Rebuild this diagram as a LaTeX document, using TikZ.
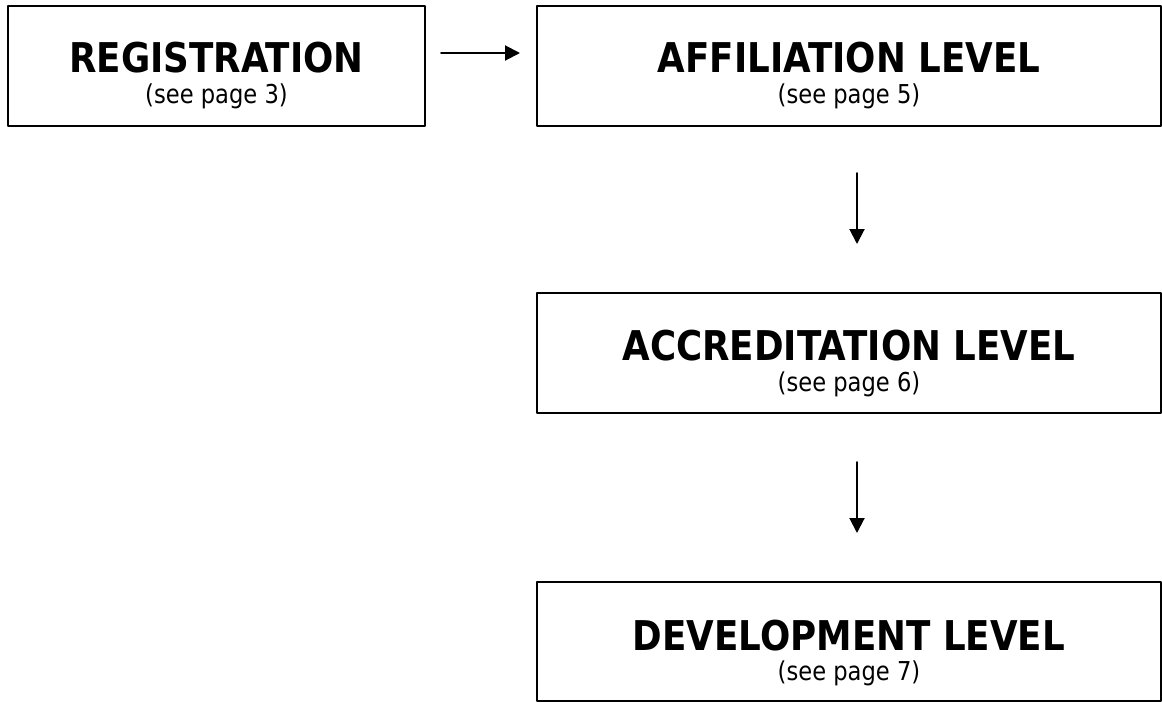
\documentclass[tikz,border=0pt]{standalone}
\usepackage{fontspec}
\setmainfont[FakeStretch=0.87]{DejaVu Sans}
\usetikzlibrary{arrows.meta}

\tikzset{
  levelbox/.style={draw,line width=2pt,inner sep=0pt,minimum width=624pt,minimum height=120pt},
  leveltitle/.style={anchor=base,inner sep=0pt,font=\fontsize{41}{43}\selectfont\bfseries},
  pageref/.style={anchor=base,inner sep=0pt,font=\fontsize{26}{28}\selectfont}
}

\begin{document}
\begin{tikzpicture}[line cap=round,line join=round,>={Triangle[length=15pt,width=15pt]},x=1pt,y=-1pt]
\useasboundingbox (0,0) rectangle (1162,702);
\node[levelbox,minimum width=417pt] (reg) at (216.5,65.5) {};
\node[levelbox] (aff) at (849,65.5) {};
\node[levelbox] (acc) at (849,353) {};
\node[levelbox,minimum height=119pt] (dev) at (849,641.5) {};
\node[leveltitle] (regt) at (216.5,72) {REGISTRATION};
\node[pageref] (regp) at (216.5,103) {(see page 3)};
\node[leveltitle] (afft) at (849,72) {AFFILIATION LEVEL};
\node[pageref] (affp) at (849,103) {(see page 5)};
\node[leveltitle] (acct) at (849,360) {ACCREDITATION LEVEL};
\node[pageref] (accp) at (849,391) {(see page 6)};
\node[leveltitle] (devt) at (849,650) {DEVELOPMENT LEVEL};
\node[pageref] (devp) at (849,680) {(see page 7)};
\coordinate (r1) at (441,53);
\coordinate (r2) at (520,53);
\coordinate (d1) at (857,173);
\coordinate (d2) at (857,244);
\coordinate (d3) at (857,462);
\coordinate (d4) at (857,533);
\draw [->,line width=2pt] (r1)-- (r2);
\draw [->,line width=2pt] (d1)-- (d2);
\draw [->,line width=2pt] (d3)-- (d4);
\end{tikzpicture}
\end{document}
